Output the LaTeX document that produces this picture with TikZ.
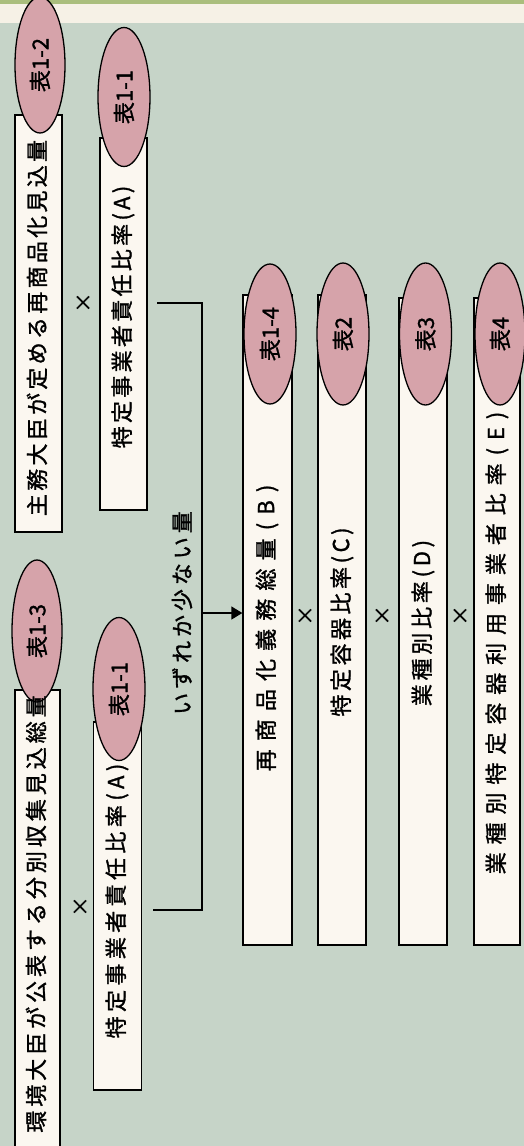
\documentclass[tikz,border=0pt]{standalone}
\usepackage{fontspec}
\setmainfont{Noto Sans CJK JP}[FakeBold=1.3]
\usepackage{tikz}
\usetikzlibrary{shapes.geometric,arrows.meta}
\definecolor{bgGreen}{RGB}{198,212,200}
\definecolor{topGreen}{RGB}{170,190,125}
\definecolor{topCream}{RGB}{246,241,230}
\definecolor{boxCream}{RGB}{251,247,240}
\definecolor{tagPink}{RGB}{214,163,170}

\begin{document}
\begin{tikzpicture}[x=1pt,y=1pt,yscale=-1,xscale=1,
  box/.style={draw=black,line width=1.3pt,fill=boxCream,inner sep=0pt},
  tag/.style={ellipse,draw=black,line width=1.3pt,fill=tagPink,inner sep=0pt,rotate=90,font=\fontsize{22pt}{22pt}\selectfont},
  vtext/.style={rotate=90,inner sep=0pt,font=\fontsize{22pt}{22pt}\selectfont\addfontfeatures{LetterSpace=#1}},
  vtext/.default=0,
  times/.style={inner sep=0pt,font=\fontsize{20pt}{20pt}\selectfont}]
%Background
\fill[bgGreen] (0,0) rectangle (524,1146);
\fill[topGreen] (0,0) rectangle (524,4);
\fill[topCream] (0,4) rectangle (524,23);
\useasboundingbox (0,0) rectangle (524,1146);

%Shape: Rectangle (left column)
\node[box,minimum width=47pt,minimum height=417pt] (boxM) at (38.5,323.5) {};
\node[box,minimum width=47pt,minimum height=372pt] (boxA) at (123.5,324) {};
\node[box,minimum width=45pt,minimum height=470pt] (boxK) at (37.5,925) {};
\node[box,minimum width=48pt,minimum height=368pt] (boxAA) at (117.5,906) {};
%Shape: Rectangle (right column)
\node[box,minimum width=49pt,minimum height=650pt] (boxB) at (267.5,620) {};
\node[box,minimum width=48pt,minimum height=650pt] (boxC) at (342,620) {};
\node[box,minimum width=48pt,minimum height=647pt] (boxD) at (423,621.5) {};
\node[box,minimum width=46pt,minimum height=647pt] (boxE) at (497,621.5) {};

%Shape: Ellipse
\node[tag,minimum width=136pt,minimum height=50pt] (tagM) at (40,65) {表1-2};
\node[tag,minimum width=139pt,minimum height=52pt] (tagA) at (124,97) {表1-1};
\node[tag,minimum width=142pt,minimum height=50pt] (tagK) at (37,631) {表1-3};
\node[tag,minimum width=143pt,minimum height=52pt] (tagAA) at (119,689) {表1-1};
\node[tag,minimum width=140pt,minimum height=52pt] (tagB) at (270,334) {表1-4};
\node[tag,minimum width=142pt,minimum height=52pt] (tagC) at (343,334) {表2};
\node[tag,minimum width=142pt,minimum height=52pt] (tagD) at (425.5,334) {表3};
\node[tag,minimum width=142pt,minimum height=50pt] (tagE) at (500,334) {表4};

% Text Node
\node[vtext=15] (txtM) at (37,328) {主務大臣が定める再商品化見込量};
\node[vtext=15] (txtA) at (123,317) {特定事業者責任比率(A)};
\node[vtext=18] (txtK) at (36,914) {環境大臣が公表する分別収集見込総量};
\node[vtext=20] (txtAA) at (117,901) {特定事業者責任比率(A)};
\node[vtext=37] (txtB) at (267,628) {再商品化義務総量(B)};
\node[vtext=16] (txtC) at (342,622) {特定容器比率(C)};
\node[vtext=17] (txtD) at (423,623) {業種別比率(D)};
\node[vtext=36] (txtE) at (497,643) {業種別特定容器利用事業者比率(E)};
\node[vtext=18] (txtL) at (182,613) {いずれか少ない量};

% Times signs
\node[times] (x1) at (83,303) {×};
\node[times] (x2) at (80,907) {×};
\node[times] (x3) at (305,616) {×};
\node[times] (x4) at (382,616) {×};
\node[times] (x5) at (460,616) {×};

%Bracket and arrow
\coordinate (jA) at (157,303);
\coordinate (jAA) at (153,910);
\coordinate (jM) at (202,613);
\draw[line width=1.3pt] (jA) -- (jA -| jM) -- (jAA -| jM) -- (jAA);
\draw[line width=1.3pt,-{Triangle[length=11pt,width=13pt]}] (jM) -- (boxB.west |- jM);
\end{tikzpicture}
\end{document}
